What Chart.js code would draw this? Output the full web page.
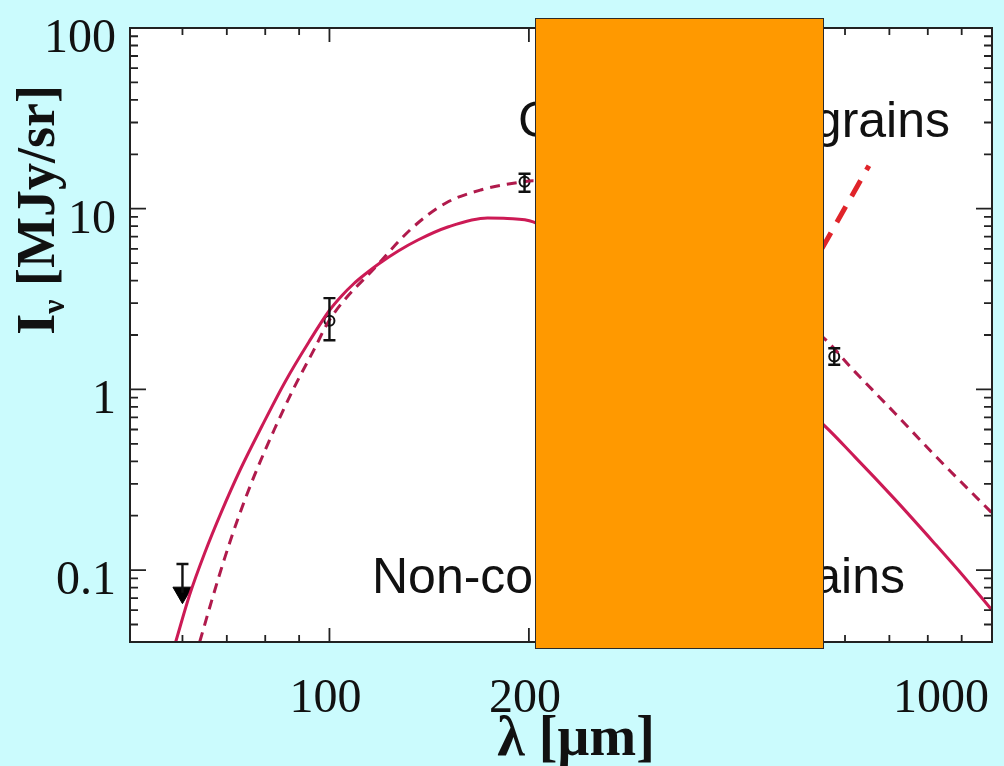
<!DOCTYPE html>
<html lang="en">
<head>
<meta charset="UTF-8">
<title>Dust SED</title>
<script src="https://cdn.jsdelivr.net/npm/chart.js"></script>
<style>
    body { margin: 0; background: #cbfbfd; }
    #wrap { position: relative; width: 1004px; height: 766px; }
    canvas { display: block; }
    /* orange panel laid over the middle of the plot */
    #cover {
        position: absolute; left: 535px; top: 18px;
        width: 287px; height: 629px;
        background: #ff9900; border: 1.5px solid #2a2a2a;
    }
</style>
</head>
<body>
<div id="wrap">
    <canvas id="sed" width="1004" height="766"></canvas>
    <div id="cover"></div>
</div>
<script>
// wavelength in µm, intensity in MJy/sr
const solidLam = [58.6, 61.5, 64.8, 68.7, 73.3, 79.1, 85.7, 93.1, 100.1, 104.3, 108.7, 113.3, 118.6, 127, 136,
                  150.9, 173.2, 185.6, 203,
                  546.6, 621.3, 713.2, 818.5, 907.8, 1000];
const solidVal = [0.04, 0.0728, 0.124, 0.21, 0.358, 0.627, 1.1, 1.83, 2.75, 3.29, 3.83, 4.35, 4.94, 5.83, 6.71,
                  7.92, 8.88, 8.83, 8.45,
                  0.677, 0.422, 0.247, 0.141, 0.0916, 0.06];

const dashLam = [63.7, 66.4, 69.4, 73.1, 77, 82.5, 88.4, 94.7, 100, 118.1, 133.3, 149.9, 169.1, 194.8, 203,
                 546.6, 621.3, 713.2, 818.5, 1000];
const dashVal = [0.04, 0.0675, 0.115, 0.202, 0.332, 0.596, 1.02, 1.65, 2.42, 4.88, 7.82, 10.75, 12.69, 14.05, 14.3,
                 2.05, 1.25, 0.74, 0.434, 0.207];

// cold component, only its tail shows right of the panel
const coldLam = [500, 543, 652];
const coldVal = [3.1, 5.3, 17.3];

// measurements with error bars
const obsLam  = [100, 197, 578];
const obsVal  = [2.4, 14.1, 1.52];
const obsLow  = [1.87, 12.4, 1.37];
const obsHigh = [3.2, 15.6, 1.69];

// upper limit
const limLam = [60];
const limVal = [0.075];
const limTop = [0.108];

// axis ticks
const xMajor = [100, 200, 1000];
const xMinor = [60, 70, 80, 90, 300, 400, 500, 600, 700, 800, 900];
const xLabels = ['100', '200', '1000'];
const yMajor = [0.1, 1, 10, 100];
const yMinor = [0.05, 0.06, 0.07, 0.08, 0.09, 0.2, 0.3, 0.4, 0.5, 0.6, 0.7, 0.8, 0.9,
                2, 3, 4, 5, 6, 7, 8, 9, 20, 30, 40, 50, 60, 70, 80, 90];
const yLabels = ['0.1', '1', '10', '100'];

const toXY = (xs, ys) => xs.map((x, i) => ({ x: x, y: ys[i] }));

const SERIF = '"Liberation Serif", "DejaVu Serif", serif';
const SANS = '"Liberation Sans", Arial, sans-serif';

const frame = {
    id: 'frame',
    beforeDraw(chart) {
        const { ctx, chartArea: a } = chart;
        ctx.save();
        ctx.fillStyle = '#ffffff';
        ctx.fillRect(a.left, a.top, a.right - a.left, a.bottom - a.top);
        ctx.restore();
    },
    afterDatasetsDraw(chart) {
        const { ctx, scales: { x, y } } = chart;
        ctx.save();
        ctx.strokeStyle = '#111';
        ctx.lineWidth = 2.4;
        const cap = 6;
        obsLam.forEach((l, i) => {
            const px = x.getPixelForValue(l);
            const y1 = y.getPixelForValue(obsLow[i]);
            const y2 = y.getPixelForValue(obsHigh[i]);
            ctx.beginPath();
            ctx.moveTo(px, y1); ctx.lineTo(px, y2);
            ctx.moveTo(px - cap, y1); ctx.lineTo(px + cap, y1);
            ctx.moveTo(px - cap, y2); ctx.lineTo(px + cap, y2);
            ctx.stroke();
        });
        limLam.forEach((l, i) => {
            const px = x.getPixelForValue(l);
            const y1 = y.getPixelForValue(limVal[i]);
            const y2 = y.getPixelForValue(limTop[i]);
            ctx.beginPath();
            ctx.moveTo(px, y1); ctx.lineTo(px, y2);
            ctx.moveTo(px - cap, y2); ctx.lineTo(px + cap, y2);
            ctx.stroke();
        });

        // annotations
        ctx.fillStyle = '#111';
        ctx.font = '50px ' + SANS;
        ctx.textBaseline = 'alphabetic';
        ctx.textAlign = 'left';
        ctx.fillText('Cold', 518, 137);
        ctx.fillText('Non-cold', 372, 593);
        ctx.textAlign = 'right';
        ctx.fillText('grains', 950, 137);
        ctx.fillText('grains', 905, 593);
        ctx.restore();
    },
    afterDraw(chart) {
        const { ctx, chartArea: a, scales: { x, y } } = chart;
        ctx.save();
        ctx.strokeStyle = '#222';
        ctx.lineWidth = 2;
        ctx.strokeRect(a.left, a.top, a.right - a.left, a.bottom - a.top);

        ctx.lineWidth = 1.8;
        ctx.beginPath();
        const xt = (v, len) => {
            const px = x.getPixelForValue(v);
            ctx.moveTo(px, a.bottom); ctx.lineTo(px, a.bottom - len);
            ctx.moveTo(px, a.top); ctx.lineTo(px, a.top + len);
        };
        const yt = (v, len) => {
            const py = y.getPixelForValue(v);
            ctx.moveTo(a.left, py); ctx.lineTo(a.left + len, py);
            ctx.moveTo(a.right, py); ctx.lineTo(a.right - len, py);
        };
        xMajor.forEach(v => xt(v, 14));
        xMinor.forEach(v => xt(v, 7));
        yMajor.forEach(v => yt(v, 16));
        yMinor.forEach(v => yt(v, 8));
        ctx.stroke();

        // tick labels
        ctx.fillStyle = '#111';
        ctx.font = '48px ' + SERIF;
        ctx.textBaseline = 'alphabetic';
        xMajor.forEach((v, i) => {
            let px = x.getPixelForValue(v);
            if (px >= a.right - 1) {
                ctx.textAlign = 'right';
                px = a.right - 3;
            } else {
                ctx.textAlign = 'center';
                px -= 4;
            }
            ctx.fillText(xLabels[i], px, 712);
        });
        ctx.textAlign = 'right';
        yMajor.forEach((v, i) => {
            ctx.fillText(yLabels[i], 116, y.getPixelForValue(v) + 24);
        });

        // axis titles
        ctx.font = 'bold 56px ' + SERIF;
        ctx.textAlign = 'center';
        ctx.fillText('λ [µm]', 576, 755);

        ctx.translate(54, 210);
        ctx.rotate(-Math.PI / 2);
        const big = 'bold 54px ' + SERIF, small = 'bold 32px ' + SERIF;
        ctx.font = big; const wI = ctx.measureText('I').width;
        const rest = ' [MJy/sr]'; const wR = ctx.measureText(rest).width;
        ctx.font = small; const wN = ctx.measureText('ν').width;
        let sx = -(wI + wN + wR) / 2;
        ctx.textAlign = 'left';
        ctx.font = big; ctx.fillText('I', sx, 0); sx += wI;
        ctx.font = small; ctx.fillText('ν', sx, 10); sx += wN;
        ctx.font = big; ctx.fillText(rest, sx, 0);
        ctx.restore();
    }
};

new Chart(document.getElementById('sed'), {
    type: 'scatter',
    data: {
        datasets: [
            {
                data: toXY(solidLam, solidVal), showLine: true,
                borderColor: '#cc1a55', borderWidth: 3, pointRadius: 0,
                cubicInterpolationMode: 'monotone'
            },
            {
                data: toXY(dashLam, dashVal), showLine: true,
                borderColor: '#b01a4c', borderWidth: 3, borderDash: [10, 7], pointRadius: 0,
                cubicInterpolationMode: 'monotone'
            },
            {
                data: toXY(coldLam, coldVal), showLine: true,
                borderColor: '#e0242a', borderWidth: 5, borderDash: [18, 12], pointRadius: 0
            },
            {
                data: toXY(obsLam, obsVal), showLine: false,
                pointStyle: 'circle', pointRadius: 5, borderWidth: 2,
                borderColor: '#111', backgroundColor: 'rgba(255,255,255,0)'
            },
            {
                data: toXY(limLam, limVal), showLine: false,
                pointStyle: 'triangle', rotation: 180, pointRadius: 11, borderWidth: 1,
                borderColor: '#000', backgroundColor: '#000'
            }
        ]
    },
    options: {
        responsive: false,
        animation: false,
        layout: { padding: { left: 130, top: 28, right: 6, bottom: 124 } },
        plugins: { legend: { display: false }, tooltip: { enabled: false } },
        scales: {
            x: { type: 'logarithmic', min: 50, max: 1000, display: false },
            y: { type: 'logarithmic', min: 0.04, max: 100, display: false }
        }
    },
    plugins: [frame]
});
</script>
</body>
</html>
